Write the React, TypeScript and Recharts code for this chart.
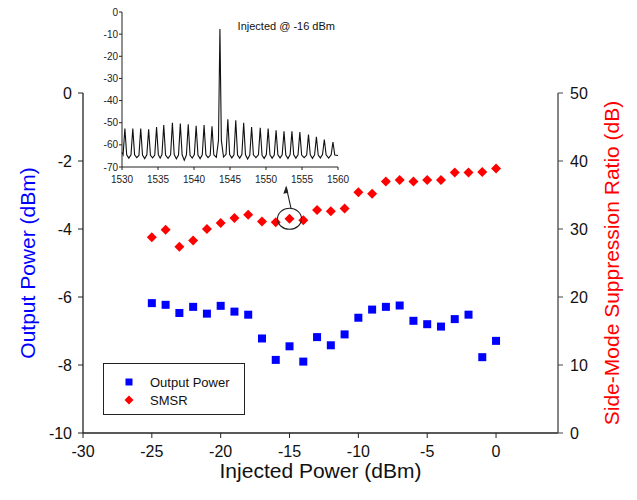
import {
  ScatterChart,
  Scatter,
  XAxis,
  YAxis,
  ReferenceDot,
  Legend,
  LineChart,
  Line,
  CartesianGrid,
} from 'recharts';

// main chart: injected power sweep
const injectedPower = [-25, -24, -23, -22, -21, -20, -19, -18, -17, -16, -15, -14, -13, -12, -11, -10, -9, -8, -7, -6, -5, -4, -3, -2, -1, 0];
const outputPower = [-6.18, -6.23, -6.47, -6.29, -6.49, -6.26, -6.43, -6.52, -7.22, -7.85, -7.45, -7.9, -7.18, -7.42, -7.1, -6.61, -6.37, -6.29, -6.25, -6.7, -6.8, -6.87, -6.65, -6.52, -7.77, -7.29];
const smsr = [28.8, 29.9, 27.4, 28.3, 30.0, 30.9, 31.6, 32.1, 31.1, 31.0, 31.5, 31.3, 32.8, 32.6, 33.0, 35.4, 35.2, 37.0, 37.2, 37.0, 37.2, 37.2, 38.3, 38.3, 38.4, 38.9];
const xTicks = [-30, -25, -20, -15, -10, -5, 0];
const powerTicks = [-10, -8, -6, -4, -2, 0];
const smsrTicks = [0, 10, 20, 30, 40, 50];

// inset: optical spectrum when injected at -16 dBm
const spectrumWavelength = [
  1530.0, 1530.15, 1530.4, 1530.65, 1530.95,
  1531.25, 1531.5, 1531.75, 1532.05,
  1532.35, 1532.6, 1532.85, 1533.15,
  1533.45, 1533.7, 1533.95, 1534.25,
  1534.55, 1534.8, 1535.05, 1535.3,
  1535.55, 1535.8, 1536.05, 1536.4,
  1536.75, 1537.0, 1537.25, 1537.55,
  1537.85, 1538.1, 1538.35, 1538.65,
  1538.95, 1539.2, 1539.45, 1539.75,
  1540.05, 1540.3, 1540.55, 1540.85,
  1541.15, 1541.4, 1541.65, 1541.95,
  1542.25, 1542.5, 1542.75, 1543.1,
  1543.4, 1543.6, 1543.8, 1544.1,
  1544.45, 1544.7, 1544.95, 1545.25,
  1545.55, 1545.8, 1546.05, 1546.35,
  1546.65, 1546.9, 1547.15, 1547.45,
  1547.75, 1548.0, 1548.25, 1548.6,
  1548.95, 1549.2, 1549.45, 1549.75,
  1550.05, 1550.3, 1550.55, 1550.85,
  1551.15, 1551.4, 1551.65, 1551.95,
  1552.25, 1552.5, 1552.75, 1553.05,
  1553.35, 1553.6, 1553.85, 1554.15,
  1554.45, 1554.7, 1554.95, 1555.3,
  1555.65, 1555.9, 1556.15, 1556.45,
  1556.75, 1557.0, 1557.25, 1557.55,
  1557.85, 1558.1, 1558.35, 1558.7,
  1559.05, 1559.3, 1559.55, 1560.0,
];
const spectrumLevel = [
  -63.5, -64.5, -52.6, -64.5, -66.0,
  -64.5, -52.6, -64.5, -65.8,
  -64.8, -52.6, -64.6, -66.2,
  -64.5, -53.0, -64.7, -65.9,
  -64.6, -52.0, -64.5, -66.0,
  -64.4, -51.0, -64.6, -66.1,
  -64.5, -50.0, -64.4, -66.3,
  -64.6, -50.4, -64.5, -67.0,
  -64.5, -50.7, -64.7, -66.0,
  -64.4, -51.4, -64.6, -66.2,
  -64.5, -51.0, -64.5, -65.8,
  -64.7, -51.6, -64.5, -65.6,
  -58.0, -7.7, -58.0, -65.5,
  -64.3, -48.4, -64.4, -65.9,
  -64.5, -48.9, -64.6, -66.0,
  -64.4, -50.0, -64.5, -66.4,
  -64.6, -51.9, -64.5, -65.8,
  -64.5, -52.3, -64.7, -66.1,
  -64.4, -52.6, -64.5, -66.0,
  -64.6, -53.4, -64.5, -65.9,
  -64.5, -53.9, -64.6, -66.2,
  -64.4, -53.9, -64.5, -66.0,
  -64.5, -54.2, -64.6, -65.8,
  -64.6, -55.4, -64.5, -66.1,
  -64.5, -56.4, -64.6, -65.9,
  -64.4, -57.6, -64.5, -66.0,
  -64.5, -58.7, -64.6, -64.8,
];
const spectrumXTicks = [1530, 1535, 1540, 1545, 1550, 1555, 1560];
const spectrumYTicks = [0, -10, -20, -30, -40, -50, -60, -70];

const outputData = injectedPower.map((x, i) => ({ x, y: outputPower[i] }));
const smsrData = injectedPower.map((x, i) => ({ x, y: smsr[i] }));
const spectrumData = spectrumWavelength.map((wl, i) => ({ wl, dbm: spectrumLevel[i] }));

const FONT = '"Liberation Sans", Arial, Helvetica, sans-serif';
const AXIS = '#222';
const BLUE = '#0000ff';
const RED = '#ff0000';

const Square = (props: any) => {
  const { cx, cy } = props;
  return <rect x={cx - 4} y={cy - 4} width={8} height={8} fill={BLUE} />;
};

const Diamond = (props: any) => {
  const { cx, cy } = props;
  const r = 5;
  return <polygon points={`${cx},${cy - r} ${cx + r},${cy} ${cx},${cy + r} ${cx - r},${cy}`} fill={RED} />;
};

// circle around the -16 dBm point and arrow up to the inset
const Callout = (props: any) => {
  const { cx, cy } = props;
  return (
    <g fill="none" stroke="#222" strokeWidth={1.1}>
      <ellipse cx={cx} cy={cy} rx={12} ry={10.5} />
      <line x1={cx + 1.5} y1={cy - 10.5} x2={cx - 3.3} y2={cy - 32} />
      <polygon
        points={`${cx - 3.4},${cy - 33} ${cx - 6.2},${cy - 25} ${cx - 1.2},${cy - 26}`}
        fill="#222"
        stroke="none"
      />
    </g>
  );
};

const LegendBox = (props: any) => {
  const items = props.payload || [];
  return (
    <div
      style={{
        width: 142,
        height: 52,
        boxSizing: 'border-box',
        border: `1.5px solid ${AXIS}`,
        background: '#fff',
        fontFamily: FONT,
        fontSize: 13,
        color: '#111',
        paddingTop: 9,
      }}
    >
      {items.map((item: any) => (
        <div key={item.value} style={{ display: 'flex', alignItems: 'center', height: 18 }}>
          <svg width={46} height={18} style={{ flex: 'none' }}>
            {item.value === 'SMSR' ? (
              <polygon points="25,4.5 29.5,9 25,13.5 20.5,9" fill={RED} />
            ) : (
              <rect x={21.5} y={5.5} width={7} height={7} fill={BLUE} />
            )}
          </svg>
          <span>{item.value}</span>
        </div>
      ))}
    </div>
  );
};

function Inset() {
  const tick = { fill: '#222', fontSize: 10, fontFamily: FONT };
  return (
    <LineChart width={272} height={190} data={spectrumData} margin={{ top: 12, right: 14, bottom: 0, left: 0 }}>
      <CartesianGrid horizontal={false} vertical={false} fill="#fff" />
      <XAxis
        type="number"
        dataKey="wl"
        domain={[1530, 1560]}
        ticks={spectrumXTicks}
        height={23}
        tickSize={3}
        tickMargin={6}
        axisLine={{ stroke: AXIS }}
        tickLine={{ stroke: AXIS }}
        tick={tick}
        interval={0}
      />
      <XAxis
        xAxisId="top"
        orientation="top"
        type="number"
        domain={[1530, 1560]}
        height={0}
        tick={false}
        tickLine={false}
        axisLine={{ stroke: AXIS }}
      />
      <YAxis
        type="number"
        domain={[-70, 0]}
        ticks={spectrumYTicks}
        width={42}
        tickSize={3}
        tickMargin={1}
        axisLine={{ stroke: AXIS }}
        tickLine={{ stroke: AXIS }}
        tick={tick}
        interval={0}
      />
      <YAxis
        yAxisId="r"
        orientation="right"
        type="number"
        domain={[-70, 0]}
        width={0}
        tick={false}
        tickLine={false}
        axisLine={{ stroke: AXIS }}
      />
      <Line
        type="linear"
        dataKey="dbm"
        stroke="#111"
        strokeWidth={1.1}
        dot={false}
        isAnimationActive={false}
      />
    </LineChart>
  );
}

export default function App() {
  const tick = { fill: '#111', fontSize: 16, fontFamily: FONT };
  return (
    <div style={{ position: 'absolute', left: 0, top: 0, width: 637, height: 500, background: '#fff' }}>
      <ScatterChart width={637} height={500} margin={{ top: 93, right: 0, bottom: 0, left: 0 }}>
        <XAxis
          type="number"
          dataKey="x"
          domain={[-30, 4.5]}
          ticks={xTicks}
          interval={0}
          height={67}
          tickSize={5}
          tickMargin={8}
          axisLine={{ stroke: AXIS, strokeWidth: 1.3 }}
          tickLine={{ stroke: AXIS }}
          tick={tick}
          label={{ value: 'Injected Power (dBm)', position: 'center', dy: 4, fill: '#111', fontSize: 21, fontFamily: FONT }}
        />
        <XAxis
          xAxisId="top"
          orientation="top"
          type="number"
          domain={[-30, 4.5]}
          height={0}
          tick={false}
          tickLine={false}
          axisLine={{ stroke: AXIS, strokeWidth: 1.3 }}
        />
        <YAxis
          yAxisId="left"
          type="number"
          dataKey="y"
          domain={[-10, 0]}
          ticks={powerTicks}
          interval={0}
          width={83}
          tickSize={5}
          tickMargin={6}
          axisLine={{ stroke: AXIS, strokeWidth: 1.3 }}
          tickLine={{ stroke: AXIS }}
          tick={tick}
          label={{ value: 'Output Power (dBm)', angle: -90, position: 'center', dx: -14, fill: BLUE, fontSize: 21, fontFamily: FONT }}
        />
        <YAxis
          yAxisId="right"
          orientation="right"
          type="number"
          dataKey="y"
          domain={[0, 50]}
          ticks={smsrTicks}
          interval={0}
          width={79}
          tickSize={5}
          tickMargin={7}
          axisLine={{ stroke: '#444', strokeWidth: 1.3 }}
          tickLine={{ stroke: '#444' }}
          tick={tick}
          label={{ value: 'Side-Mode Suppression Ratio (dB)', angle: -90, position: 'center', dx: 14, fill: RED, fontSize: 21, fontFamily: FONT }}
        />
        <Scatter
          name="Output Power"
          data={outputData}
          yAxisId="left"
          fill={BLUE}
          shape={Square}
          isAnimationActive={false}
        />
        <Scatter
          name="SMSR"
          data={smsrData}
          yAxisId="right"
          fill={RED}
          shape={Diamond}
          isAnimationActive={false}
        />
        <ReferenceDot x={-15} y={31.5} yAxisId="right" shape={Callout} />
        <Legend
          layout="vertical"
          align="center"
          verticalAlign="middle"
          content={LegendBox}
          wrapperStyle={{ left: 103, top: 363, width: 142, height: 52 }}
        />
      </ScatterChart>
      <div style={{ position: 'absolute', left: 80, top: 0 }}>
        <Inset />
      </div>
      <div
        style={{
          position: 'absolute',
          left: 200,
          width: 135,
          top: 19,
          textAlign: 'right',
          fontFamily: FONT,
          fontSize: 11,
          lineHeight: '14px',
          color: '#111',
        }}
      >
        Injected @ -16 dBm
      </div>
    </div>
  );
}
